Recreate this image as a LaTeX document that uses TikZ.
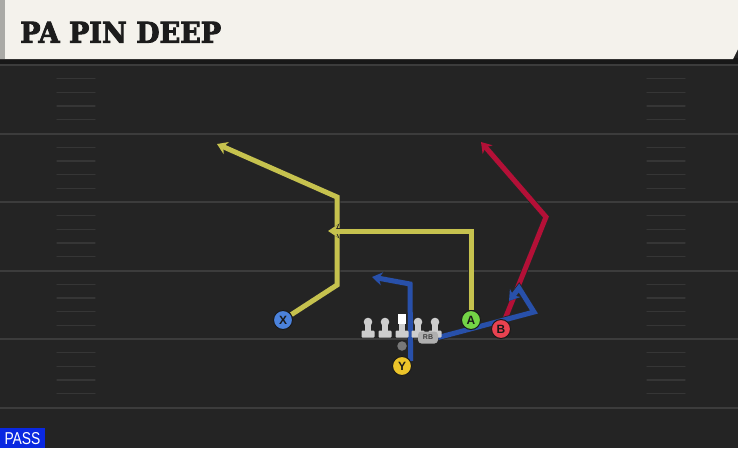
\documentclass[tikz,border=0pt]{standalone}
\usepackage{fontspec}
\usepackage{graphicx}
\usetikzlibrary{arrows.meta}
\newfontfamily\titlefont[FakeBold=3]{DejaVu Serif}
\newfontfamily\labfont{Liberation Sans}
\definecolor{fieldbg}{RGB}{36,36,36}
\definecolor{yardc}{RGB}{60,60,60}
\definecolor{hashc}{RGB}{54,54,54}
\definecolor{cream}{RGB}{244,242,236}
\definecolor{stripc}{RGB}{170,170,166}
\definecolor{bandc}{RGB}{24,24,24}
\definecolor{titlec}{RGB}{28,28,28}
\definecolor{passblue}{RGB}{10,40,225}
\definecolor{ryellow}{RGB}{198,194,78}
\definecolor{rred}{RGB}{180,16,55}
\definecolor{rblue}{RGB}{40,80,170}
\definecolor{pxblue}{RGB}{75,130,220}
\definecolor{pagreen}{RGB}{115,212,70}
\definecolor{pbred}{RGB}{232,66,80}
\definecolor{pyyellow}{RGB}{236,196,42}
\definecolor{olc}{RGB}{205,205,205}
\definecolor{qbc}{RGB}{120,120,120}
\definecolor{rbc}{RGB}{175,175,175}
\pgfdeclarelayer{field}
\pgfdeclarelayer{routes}
\pgfsetlayers{field,routes,main}
\tikzset{
  yardline/.style={draw=yardc, line width=2pt},
  hashline/.style={draw=hashc, line width=1.3pt, line cap=round},
  route/.style={line width=5pt, line join=miter,
    -{Stealth[length=10pt,width=13pt,inset=3pt]},
    preaction={draw=black!85, line width=6.6pt,
      -{Stealth[length=11.5pt,width=15pt,inset=3.5pt]}}},
  yroute/.style={route, draw=ryellow},
  rroute/.style={route, draw=rred},
  broute/.style={route, draw=rblue},
  player/.style={circle, draw=black!90, line width=1pt, minimum size=19pt,
    inner sep=0pt, text=black!90, font=\labfont\bfseries\fontsize{12}{12}\selectfont},
  lineman/.pic={
    \fill[olc, rounded corners=1pt] (-6.5,330.5) rectangle (6.5,337.5);
    \fill[olc] (-2.6,323) rectangle (2.6,331);
    \fill[olc] (0,322) circle (4.3);
  },
  centerman/.pic={
    \fill[olc, rounded corners=1pt] (-6.5,330.5) rectangle (6.5,337.5);
    \fill[olc] (-2.6,323) rectangle (2.6,331);
    \fill[white] (-4.3,314) rectangle (4.3,323.5);
  }
}
\begin{document}
\begin{tikzpicture}[x=1pt,y=-1pt]
\useasboundingbox (0,0) rectangle (738,448);
\begin{pgfonlayer}{field}
\fill[fieldbg] (0,0) rectangle (738,448);
\foreach \yy in {65,133.5,202,270.5,339,407.5}
  \draw[yardline] (0,\yy) -- (738,\yy);
\foreach \yy in {65,133.5,202,270.5,339}
  \foreach \k in {1,...,4} {
    \draw[hashline] (57,{\yy+13.7*\k}) -- (95,{\yy+13.7*\k});
    \draw[hashline] (647,{\yy+13.7*\k}) -- (685,{\yy+13.7*\k});
  }
\fill[bandc] (0,58) rectangle (738,64);
\fill[cream] (0,0) -- (738,0) -- (738,49) -- (733,59) -- (0,59) -- cycle;
\fill[stripc] (0,0) rectangle (5,59);
\node[anchor=south west, inner sep=0pt, text=titlec] (title) at (20,43)
  {\resizebox{201pt}{21pt}{\titlefont\bfseries PA PIN DEEP}};
\fill[passblue] (0,428) rectangle (45,448);
\node[inner sep=0pt, text=white] (pass) at (22.5,438.5)
  {\resizebox{36pt}{12pt}{\labfont PASS}};
\end{pgfonlayer}

% offensive line
\pic at (368,0) {lineman};
\pic at (385,0) {lineman};
\pic at (402,0) {centerman};
\pic at (418,0) {lineman};
\pic at (435,0) {lineman};
\node[circle, fill=qbc, minimum size=9.5pt, inner sep=0pt] (QB) at (402,346) {};
\node[fill=rbc, rounded corners=3.5pt, minimum width=20pt, minimum height=12pt,
  inner sep=0pt, text=black!75, font=\labfont\bfseries\fontsize{7}{7}\selectfont] (RB) at (428,337.5) {RB};

% players
\node[player, fill=pxblue] (X) at (283,320) {X};
\node[player, fill=pagreen] (A) at (471,320) {A};
\node[player, fill=pbred] (B) at (501,329) {B};
\node[player, fill=pyyellow] (Y) at (402,366) {Y};

% route points
\coordinate (x1) at (337,285);
\coordinate (x2) at (337,197);
\coordinate (xe) at (217,144);
\coordinate (a1) at (471,231);
\coordinate (ae) at (328,231);
\coordinate (b1) at (546,217);
\coordinate (be) at (481,142);
\coordinate (y1) at (410,284);
\coordinate (ye) at (372,277);
\coordinate (r1) at (534,312);
\coordinate (r2) at (519,288);
\coordinate (re) at (509,301);

\begin{pgfonlayer}{routes}
\draw[yroute] (X) -- (x1) -- (x2) -- (xe);
\draw[yroute] (A) -- (a1) -- (ae);
\draw[rroute] (B) -- (b1) -- (be);
\draw[broute] (Y.30) -- (y1) -- (ye);
\draw[broute] (RB.east) -- (r1) -- (r2) -- (re);
\end{pgfonlayer}
\end{tikzpicture}
\end{document}
